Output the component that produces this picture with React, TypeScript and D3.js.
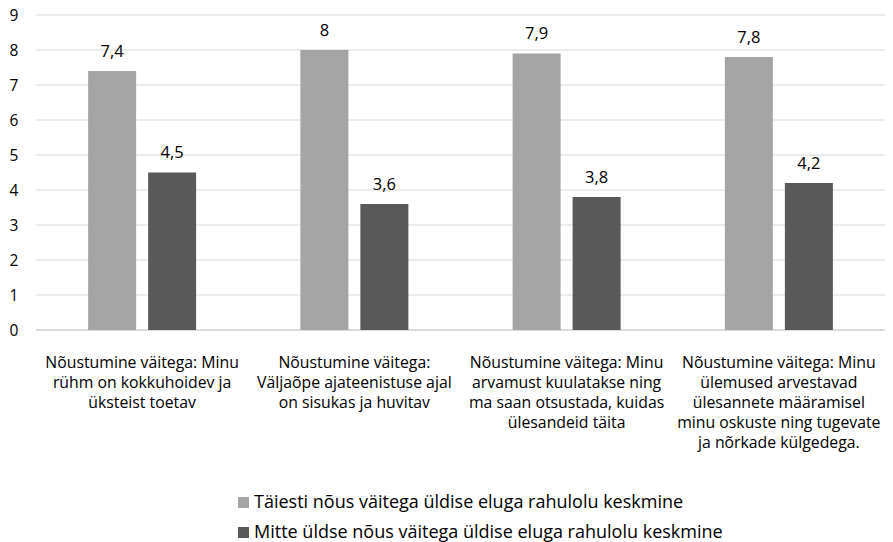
import React from "react";
import * as d3 from "d3";

const categories: string[][] = [
  ["Nõustumine väitega: Minu", "rühm on kokkuhoidev ja", "üksteist toetav"],
  ["Nõustumine väitega:", "Väljaõpe ajateenistuse ajal", "on sisukas ja huvitav"],
  ["Nõustumine väitega: Minu", "arvamust kuulatakse ning", "ma saan otsustada, kuidas", "ülesandeid täita"],
  ["Nõustumine väitega: Minu", "ülemused arvestavad", "ülesannete määramisel", "minu oskuste ning tugevate", "ja nõrkade külgedega."],
];
const seriesNames = [
  "Täiesti nõus väitega üldise eluga rahulolu keskmine",
  "Mitte üldse nõus väitega üldise eluga rahulolu keskmine",
];
const fullyAgree = [7.4, 8, 7.9, 7.8];
const notAtAll = [4.5, 3.6, 3.8, 4.2];
const yTicks = [0, 1, 2, 3, 4, 5, 6, 7, 8, 9];
const colors = ["#a5a5a5", "#595959"];

const W = 893, H = 542;
const left = 36, right = 885, top = 15, bottom = 330;
const FONT = "'Open Sans', sans-serif";

export default function App() {
  const x = d3.scaleBand<number>().domain(d3.range(categories.length)).range([left, right]);
  const y = d3.scaleLinear().domain([0, 9]).range([bottom, top]);
  const barW = 48, gap = 12;
  const series = [fullyAgree, notAtAll];
  const fmt = (v: number) => String(v).replace(".", ",");
  return (
    <svg width={W} height={H} style={{ position: "absolute", left: 0, top: 0, background: "#fff" }} fontFamily={FONT}>
      {yTicks.map((t) => (
        <g key={t}>
          <line x1={left} x2={right} y1={y(t)} y2={y(t)} stroke={t === 0 ? "#cfcfcf" : "#d9d9d9"} strokeWidth={t === 0 ? 1.5 : 1} />
          <text x={14} y={y(t)} dy="0.36em" textAnchor="middle" fontSize={15.5} fill="#000">{t}</text>
        </g>
      ))}
      {series.map((vals, si) =>
        vals.map((v, ci) => {
          const cx = (x(ci) as number) + x.bandwidth() / 2;
          const bx = si === 0 ? cx - gap / 2 - barW : cx + gap / 2;
          return (
            <g key={si + "-" + ci}>
              <rect x={bx} y={y(v)} width={barW} height={y(0) - y(v)} fill={colors[si]} />
              <text x={bx + barW / 2} y={y(v) - 14.5} textAnchor="middle" fontSize={16.5} fill="#000">{fmt(v)}</text>
            </g>
          );
        })
      )}
      {categories.map((lines, ci) => {
        const cx = (x(ci) as number) + x.bandwidth() / 2;
        return (
          <text key={ci} textAnchor="middle" fontSize={15.8} fill="#000">
            {lines.map((l, li) => (
              <tspan key={li} x={cx} y={368 + li * 20}>{l}</tspan>
            ))}
          </text>
        );
      })}
      {seriesNames.map((n, i) => (
        <g key={i}>
          <rect x={238} y={497 + i * 30} width={11} height={11} fill={colors[i]} />
          <text x={254} y={507.5 + i * 30} fontSize={18} fill="#000">{n}</text>
        </g>
      ))}
    </svg>
  );
}
